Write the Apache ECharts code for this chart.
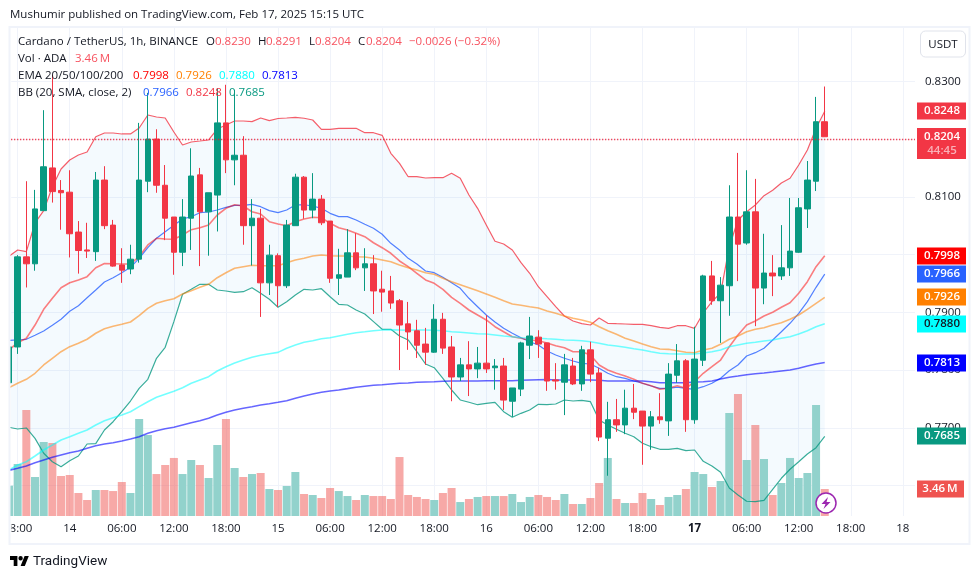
<!DOCTYPE html>
<html><head><meta charset="utf-8">
<style>html,body{margin:0;padding:0;background:#fff}#c{width:980px;height:579px}</style>
<script src="https://cdn.jsdelivr.net/npm/echarts@6/dist/echarts.min.js"></script>
</head><body><div id="c"></div>
<script>
const opens=[
.7778,.7840,.7996,.7984,.8076,.8150,.8111,.8108,.8039,.8008,
.8005,.8129,.8051,.7982,.7975,.7992,.8127,.8200,.8120,.8065,
.8004,.8063,.8138,.8074,.8103,.8228,.8164,.8172,.8050,.8063,
.7951,.7998,.7946,.8050,.8134,.8077,.8096,.8058,.7959,.7961,
.8003,.7977,.7984,.7940,.7937,.7920,.7880,.7868,.7845,.7831,
.7888,.7840,.7788,.7809,.7802,.7812,.7804,.7807,.7746,.7767,
.7843,.7857,.7847,.7783,.7779,.7807,.7776,.7835,.7795,.7682,
.7714,.7705,.7734,.7729,.7703,.7719,.7712,.7791,.7816,.7714,
.7817,.7963,.7920,.7946,.8065,.8020,.8074,.7942,.7968,.7963,
.7977,.8004,.8079,.8127,.8230];
const closes=[
.7840,.7996,.7984,.8079,.8152,.8109,.8107,.8036,.8007,.8006,
.8129,.8050,.7980,.7973,.7992,.8129,.8200,.8120,.8063,.8004,
.8065,.8136,.8074,.8107,.8228,.8164,.8172,.8050,.8063,.7951,
.7999,.7946,.8051,.8134,.8077,.8096,.8055,.7959,.7965,.8003,
.7977,.7984,.7937,.7935,.7916,.7878,.7866,.7843,.7831,.7888,
.7838,.7788,.7809,.7802,.7812,.7802,.7807,.7748,.7769,.7847,
.7859,.7845,.7781,.7781,.7809,.7776,.7835,.7793,.7684,.7714,
.7705,.7734,.7727,.7703,.7719,.7714,.7793,.7816,.7714,.7819,
.7963,.7920,.7947,.8065,.8018,.8074,.7942,.7968,.7963,.7977,
.8006,.8081,.8129,.8230,.8204];
const highs=[
.7843,.7999,.8127,.8112,.8250,.8311,.8129,.8146,.8058,.8055,
.8143,.8153,.8060,.8011,.8017,.8228,.8280,.8217,.8155,.8065,
.8096,.8184,.8150,.8107,.8288,.8294,.8285,.8205,.8096,.8079,
.8017,.8002,.8060,.8140,.8136,.8141,.8103,.8058,.8010,.8044,
.8037,.8011,.7999,.7972,.7963,.7923,.7918,.7887,.7873,.7914,
.7899,.7859,.7821,.7850,.7840,.7895,.7819,.7821,.7769,.7849,
.7892,.7869,.7847,.7812,.7828,.7821,.7842,.7849,.7804,.7745,
.7750,.7766,.7776,.7729,.7729,.7760,.7812,.7845,.7819,.7875,
.7965,.7989,.7961,.8120,.8176,.8146,.8131,.8036,.7999,.8051,
.8098,.8098,.8162,.8273,.8291];
const lows=[
.7769,.7828,.7943,.7972,.8076,.8090,.8043,.7995,.7967,.7994,
.7989,.8044,.7979,.7951,.7966,.7986,.8108,.8107,.8025,.7965,
.7980,.8008,.7980,.7998,.8040,.8141,.8120,.8017,.7981,.7892,
.7930,.7909,.7942,.8050,.8062,.8063,.8051,.7951,.7930,.7961,
.7973,.7937,.7897,.7901,.7906,.7800,.7835,.7821,.7809,.7830,
.7828,.7746,.7781,.7755,.7786,.7795,.7766,.7731,.7719,.7755,
.7819,.7821,.7764,.7766,.7722,.7774,.7764,.7779,.7677,.7617,
.7693,.7689,.7715,.7636,.7662,.7707,.7686,.7778,.7693,.7707,
.7807,.7913,.7847,.7894,.7954,.8017,.7876,.7914,.7928,.7956,
.7963,.8003,.8046,.8110,.8204];
const volumesM=[
3.89,6.67,13.59,5.0,9.49,9.36,5.13,5.26,2.95,2.05,
3.33,3.33,3.2,4.36,2.95,12.44,10.38,5.38,6.54,7.44,
5.38,7.18,6.54,4.87,9.1,12.44,6.15,5.0,5.38,5.51,
3.46,3.33,3.85,5.64,2.82,2.69,2.31,3.59,3.2,2.56,
2.05,2.69,2.56,2.56,2.18,7.56,2.69,2.44,2.18,2.05,
2.95,3.59,1.79,2.18,2.44,2.56,2.56,2.56,2.82,1.79,
2.44,2.69,2.44,2.05,2.82,1.54,1.54,2.31,4.23,7.44,
2.18,1.67,1.67,2.95,2.18,1.41,2.44,2.69,3.46,5.64,
5.38,3.72,4.49,13.2,15.64,7.18,11.67,7.31,2.69,4.23,
7.44,4.87,5.51,14.23,3.46];
const bbUpper=[
.79971,.80079,.80050,.80547,.80760,.81175,.81482,.81637,.81724,.81776,
.82041,.82105,.82105,.82088,.82088,.82192,.82417,.82382,.82365,.82122,
.81897,.81949,.81966,.81984,.82174,.82243,.82313,.82313,.82301,.82365,
.82318,.82356,.82365,.82377,.82360,.82330,.82169,.82169,.82186,.82186,
.82186,.82110,.82110,.82065,.81753,.81580,.81348,.81348,.81326,.81331,
.81331,.81407,.81321,.81031,.80801,.80512,.80230,.80183,.80079,.79859,
.79676,.79443,.79270,.79097,.78936,.78850,.78803,.78780,.78902,.78810,
.78803,.78798,.78792,.78792,.78768,.78740,.78723,.78768,.78768,.78723,
.78988,.79184,.79334,.80136,.80598,.80742,.80858,.81019,.81113,.81239,
.81321,.81551,.81811,.82186,.82480];
const bbBasis=[
.78515,.78521,.78533,.78602,.78676,.78775,.78879,.79018,.79114,.79253,
.79386,.79525,.79599,.79686,.79779,.79935,.80119,.80282,.80396,.80507,
.80616,.80656,.80725,.80737,.80772,.80818,.80853,.80853,.80870,.80829,
.80760,.80725,.80772,.80858,.80863,.80841,.80801,.80714,.80656,.80656,
.80598,.80524,.80455,.80351,.80195,.80079,.79935,.79837,.79715,.79686,
.79606,.79513,.79416,.79243,.79097,.78953,.78832,.78723,.78637,.78560,
.78491,.78434,.78330,.78261,.78204,.78157,.78117,.78105,.78031,.77944,
.77885,.77857,.77811,.77771,.77724,.77684,.77684,.77702,.77684,.77667,
.77712,.77771,.77857,.77989,.78088,.78244,.78301,.78377,.78521,.78664,
.78810,.78983,.79184,.79433,.79660];
const bbLower=[
.77009,.76979,.76997,.76818,.76559,.76413,.76327,.76430,.76512,.76720,
.76725,.76962,.77106,.77279,.77464,.77684,.77840,.78204,.78394,.78838,
.79312,.79398,.79485,.79485,.79386,.79369,.79346,.79357,.79426,.79329,
.79225,.79087,.79184,.79300,.79398,.79386,.79409,.79270,.79139,.79127,
.79040,.78971,.78838,.78706,.78706,.78590,.78521,.78318,.78105,.78041,
.77857,.77655,.77482,.77442,.77400,.77424,.77442,.77279,.77182,.77251,
.77308,.77407,.77400,.77412,.77482,.77464,.77476,.77452,.77135,.77049,
.76974,.76905,.76846,.76732,.76673,.76628,.76628,.76645,.76604,.76616,
.76420,.76339,.76230,.75958,.75837,.75728,.75721,.75745,.75935,.76126,
.76282,.76413,.76547,.76656,.76850];
const ema20=[
.78347,.78474,.78550,.78780,.79052,.79243,.79426,.79513,.79560,.79617,
.79772,.79845,.79842,.79837,.79837,.79966,.80166,.80282,.80269,.80264,
.80339,.80431,.80465,.80512,.80685,.80801,.80863,.80841,.80742,.80702,
.80569,.80529,.80500,.80569,.80616,.80645,.80638,.80541,.80465,.80425,
.80368,.80309,.80205,.80119,.80022,.79889,.79790,.79676,.79560,.79502,
.79398,.79260,.79156,.79040,.78953,.78867,.78751,.78664,.78578,.78550,
.78521,.78508,.78469,.78422,.78387,.78318,.78318,.78261,.78088,.78001,
.77944,.77897,.77840,.77771,.77729,.77667,.77684,.77729,.77684,.77798,
.77944,.78058,.78174,.78405,.78607,.78780,.78850,.78936,.79000,.79087,
.79166,.79329,.79530,.79790,.79980];
const ema50=[
.77695,.77771,.77840,.77944,.78088,.78204,.78318,.78405,.78463,.78533,
.78637,.78716,.78758,.78792,.78832,.78941,.79069,.79156,.79201,.79236,
.79317,.79374,.79433,.79485,.79599,.79686,.79762,.79790,.79814,.79807,
.79807,.79807,.79859,.79906,.79935,.79975,.79992,.79980,.79975,.79975,
.79963,.79958,.79935,.79906,.79876,.79819,.79772,.79733,.79686,.79658,
.79589,.79530,.79478,.79426,.79374,.79317,.79260,.79201,.79144,.79121,
.79097,.79075,.79023,.78983,.78936,.78896,.78867,.78827,.78751,.78682,
.78619,.78550,.78503,.78451,.78405,.78365,.78359,.78335,.78308,.78301,
.78347,.78377,.78446,.78533,.78590,.78664,.78706,.78734,.78780,.78820,
.78879,.78953,.79052,.79156,.79260];
const ema100=[
.76269,.76356,.76413,.76512,.76616,.76702,.76789,.76846,.76905,.76962,
.77049,.77123,.77175,.77222,.77279,.77366,.77452,.77528,.77580,.77632,
.77695,.77771,.77828,.77885,.77984,.78058,.78122,.78174,.78221,.78256,
.78283,.78306,.78377,.78434,.78481,.78508,.78543,.78560,.78590,.78619,
.78647,.78664,.78682,.78694,.78699,.78694,.78689,.78694,.78694,.78689,
.78682,.78664,.78654,.78642,.78630,.78624,.78607,.78590,.78578,.78560,
.78555,.78550,.78541,.78533,.78521,.78515,.78508,.78491,.78463,.78434,
.78417,.78394,.78370,.78347,.78318,.78290,.78283,.78278,.78278,.78278,
.78295,.78318,.78347,.78405,.78434,.78463,.78481,.78503,.78521,.78550,
.78578,.78624,.78682,.78751,.78800];
const ema200=[
.76264,.76299,.76339,.76396,.76443,.76489,.76529,.76569,.76598,.76645,
.76690,.76720,.76742,.76772,.76806,.76846,.76905,.76950,.76985,.77009,
.77049,.77089,.77123,.77165,.77222,.77269,.77308,.77338,.77366,.77395,
.77418,.77442,.77470,.77511,.77551,.77586,.77615,.77638,.77655,.77678,
.77702,.77719,.77736,.77747,.77759,.77771,.77776,.77788,.77793,.77798,
.77805,.77811,.77811,.77811,.77811,.77816,.77816,.77816,.77816,.77823,
.77828,.77833,.77837,.77828,.77828,.77828,.77828,.77828,.77823,.77811,
.77811,.77811,.77811,.77811,.77798,.77781,.77781,.77781,.77781,.77793,
.77798,.77811,.77845,.77875,.77897,.77920,.77937,.77949,.77966,.77984,
.78001,.78031,.78070,.78105,.78130];

const hourIndex=opens.map((_,i)=>i-1);
const xTicks=[0,6,12,18,24,30,36,42,48,54,60,66,72,78,84,90,96,102];
const xTickLabels=['18:00','14','06:00','12:00','18:00','15','06:00','12:00','18:00','16','06:00','12:00','18:00','17','06:00','12:00','18:00','18'];
const priceTicks=[0.76,0.77,0.78,0.79,0.80,0.81,0.82,0.83];
const priceTags=[
 {v:0.8248,t:'0.8248',c:'#F23645',f:'#fff'},
 {v:0.7998,t:'0.7998',c:'#FF0000',f:'#fff'},
 {v:0.7966,t:'0.7966',c:'#2962FF',f:'#fff'},
 {v:0.7926,t:'0.7926',c:'#FF8000',f:'#fff'},
 {v:0.7880,t:'0.7880',c:'#00FFFF',f:'#131722'},
 {v:0.7813,t:'0.7813',c:'#0000FF',f:'#fff'},
 {v:0.7685,t:'0.7685',c:'#089981',f:'#fff'}];
const lastPrice=0.8204, lastVolumeM=3.46;
const UP='#089981',DOWN='#F23645';
const FONT='"Open Sans","Noto Sans",sans-serif';
const FS='11.5px ';
const TAGF='600 11.5px ';
const TXT='#131722', RED='#F7525F';

const legendItems=[
 ['Mushumir published on TradingView.com, Feb 17, 2025 15:15 UTC',10,15,TXT],
 ['Cardano / TetherUS, 1h, BINANCE',18,42,TXT],
 ['O',206,42,TXT],['0.8230',215,42,RED],
 ['H',258,42,TXT],['0.8291',266,42,RED],
 ['L',309,42,TXT],['0.8204',315,42,RED],
 ['C',358,42,TXT],['0.8204',366,42,RED],
 ['\u22120.0026 (\u22120.32%)',409,42,RED],
 ['Vol \u00B7 ADA',18,59,TXT],['3.46\u2009M',75,59,RED],
 ['EMA 20/50/100/200',18,76,TXT],
 ['0.7998',133,76,'#FF0000'],['0.7926',176,76,'#FF8000'],['0.7880',219,76,'#00FFFF'],['0.7813',262,76,'#0000FF'],
 ['BB (20, SMA, close, 2)',18,93,TXT],
 ['0.7966',143,93,'#2962FF'],['0.8248',186,93,'#F23645'],['0.7685',229,93,'#089981'],
];
const lineSeries=(name,data,color,width,op)=>({name,type:'line',xAxisIndex:0,yAxisIndex:0,z:3,
  data:data.map((v,i)=>[hourIndex[i],v]),showSymbol:false,symbol:'none',smooth:false,silent:true,clip:true,
  lineStyle:{color,width,opacity:op}});

const chart=echarts.init(document.getElementById('c'),null,{renderer:'canvas'});
chart.setOption({
 animation:false,backgroundColor:'#fff',
 grid:{left:10,top:28,width:905,height:488,containLabel:false},
 xAxis:{type:'value',min:-0.74,max:103.4,
   axisLine:{show:false},axisTick:{show:false,customValues:xTicks},
   splitLine:{show:true,lineStyle:{color:'#F0F3FA',width:1}},
   axisLabel:{customValues:xTicks,margin:7,fontSize:11.5,fontFamily:FONT,color:TXT,hideOverlap:false,showMinLabel:true,showMaxLabel:true,
     formatter:v=>{const s=xTickLabels[xTicks.indexOf(v)];return s==='17'?'{b|17}':s;},
     rich:{b:{fontWeight:'bold',fontSize:11.5,fontFamily:FONT,color:TXT}}}},
 yAxis:[
  {type:'value',position:'right',min:0.75473,max:0.83923,
   axisLine:{show:false},axisTick:{show:false,customValues:priceTicks},
   splitLine:{show:true,lineStyle:{color:'#F0F3FA',width:1}},
   axisLabel:{customValues:priceTicks,margin:10,fontSize:11.5,fontFamily:FONT,color:TXT,formatter:v=>v.toFixed(4)}},
  {type:'value',position:'left',min:0,max:62.56,show:false,splitLine:{show:false}}],
 series:[
  {type:'custom',name:'BB fill',z:1,silent:true,clip:true,
   data:hourIndex.map((h,i)=>[h,bbUpper[i],bbLower[i]]),encode:{x:0,y:[1,2]},
   renderItem:(p,api)=>{
     if(p.dataIndex!==0)return null;
     const up=hourIndex.map((h,i)=>api.coord([h,bbUpper[i]]));
     const lo=hourIndex.map((h,i)=>api.coord([h,bbLower[i]])).reverse();
     return {type:'polygon',shape:{points:up.concat(lo)},style:{fill:'rgba(33,150,243,0.05)'}};
   }},
  {type:'bar',name:'Vol',xAxisIndex:0,yAxisIndex:1,z:2,barWidth:8,silent:true,
   data:volumesM.map((v,i)=>({value:[hourIndex[i],v],itemStyle:{color:closes[i]>=opens[i]?'#92D2CC':'rgba(239,83,80,0.5)'}}))},
  lineSeries('BB upper',bbUpper,'#F23645',1.2,0.8),
  lineSeries('BB basis',bbBasis,'#2962FF',1.2,0.8),
  lineSeries('BB lower',bbLower,'#089981',1.2,0.8),
  lineSeries('EMA20',ema20,'#FF0000',1.6,0.5),
  lineSeries('EMA50',ema50,'#FF8000',1.6,0.55),
  lineSeries('EMA100',ema100,'#00FFFF',1.6,0.55),
  lineSeries('EMA200',ema200,'#0000FF',1.6,0.6),
  {type:'candlestick',name:'ADAUSDT',xAxisIndex:0,yAxisIndex:0,z:4,barWidth:6,silent:true,
   data:hourIndex.map((h,i)=>[h,opens[i],closes[i],lows[i],highs[i]]),
   encode:{x:0,y:[1,2,3,4]},
   itemStyle:{color:UP,color0:DOWN,borderColor:UP,borderColor0:DOWN,borderWidth:1},
   markLine:{silent:true,symbol:'none',animation:false,z:5,label:{show:false},
     lineStyle:{color:'#F0142A',type:[1,2],width:1.3},data:[{yAxis:lastPrice}]}},
  {type:'custom',name:'Price tags',z:6,silent:true,clip:false,coordinateSystem:'cartesian2d',
   data:priceTags.map(t=>[0,t.v]),encode:{x:0,y:1},
   renderItem:(p,api)=>{
     const t=priceTags[p.dataIndex]; const y=api.coord([0,t.v])[1];
     return {type:'group',children:[
       {type:'rect',shape:{x:917,y:Math.round(y)-8.5,width:49,height:17},style:{fill:t.c}},
       {type:'text',style:{text:t.t,x:942,y:Math.round(y),align:'center',verticalAlign:'middle',fill:t.f,font:TAGF+FONT}}]};
   }},
  {type:'custom',name:'Last tag',z:7,silent:true,clip:false,
   data:[[0,lastPrice]],encode:{x:0,y:1},
   renderItem:(p,api)=>{
     const y=Math.round(api.coord([0,lastPrice])[1]);
     return {type:'group',children:[
       {type:'rect',shape:{x:917,y:y-9,width:49,height:31},style:{fill:DOWN}},
       {type:'text',style:{text:lastPrice.toFixed(4),x:942,y:y,align:'center',verticalAlign:'middle',fill:'#fff',font:TAGF+FONT}},
       {type:'text',style:{text:'44:45',x:942,y:y+14,align:'center',verticalAlign:'middle',fill:'#F9B1B8',font:TAGF+FONT}}]};
   }},
  {type:'custom',name:'Vol tag',z:7,silent:true,clip:false,yAxisIndex:1,
   data:[[0,lastVolumeM]],encode:{x:0,y:1},
   renderItem:(p,api)=>{
     const y=Math.round(api.coord([0,lastVolumeM])[1]);
     return {type:'group',children:[
       {type:'rect',shape:{x:917,y:y-8.5,width:47,height:17},style:{fill:'#EF5350'}},
       {type:'text',style:{text:'3.46\u2009M',x:940,y:y,align:'center',verticalAlign:'middle',fill:'#fff',font:TAGF+FONT}}]};
   }}
 ],
 graphic:[
  {type:'rect',z:20,silent:true,shape:{x:0,y:0,width:9,height:579},style:{fill:'#fff'}},
  {type:'rect',z:20,silent:true,shape:{x:0,y:517,width:11.5,height:27},style:{fill:'#fff'}},
  {type:'rect',z:21,silent:true,shape:{x:9.5,y:27,width:960,height:517},style:{fill:'transparent',stroke:'#F0F3FA',lineWidth:2}},
  {type:'rect',z:21,silent:true,shape:{x:920.5,y:31,width:45,height:26,r:5},style:{fill:'#fff',stroke:'#E0E3EB',lineWidth:1}},
  {type:'text',z:22,silent:true,style:{text:'USDT',x:943,y:44.5,align:'center',verticalAlign:'middle',fill:TXT,font:FS+FONT}},
  {type:'circle',z:22,silent:true,shape:{cx:826,cy:503,r:10},style:{fill:'#fff',stroke:'#9C27B0',lineWidth:1.5}},
  {type:'polygon',z:23,silent:true,shape:{points:[[828,497],[821.5,504],[825.5,504],[823.5,509],[830.5,502],[826.5,502]]},style:{fill:'#9C27B0'}},
  {type:'polygon',z:22,silent:true,shape:{points:[[17.4,566],[13.7,566],[13.7,559.9],[10,559.9],[10,556],[17.4,556]]},style:{fill:'#000'}},
  {type:'polygon',z:22,silent:true,shape:{points:[[24.8,566],[20.6,566],[24.6,556],[28.8,556]]},style:{fill:'#000'}},
  {type:'circle',z:22,silent:true,shape:{cx:20.6,cy:558.2,r:2.2},style:{fill:'#000'}},
  {type:'text',z:22,silent:true,style:{text:'TradingView',x:33,y:561.5,align:'left',verticalAlign:'middle',fill:'#131722',font:'13.5px Roboto,'+FONT}},
  ...legendItems.map(([text,x,y,fill])=>({type:'text',z:30,silent:true,style:{text,x,y,fill,align:'left',verticalAlign:'middle',font:FS+FONT}}))
 ]
});
</script></body></html>
